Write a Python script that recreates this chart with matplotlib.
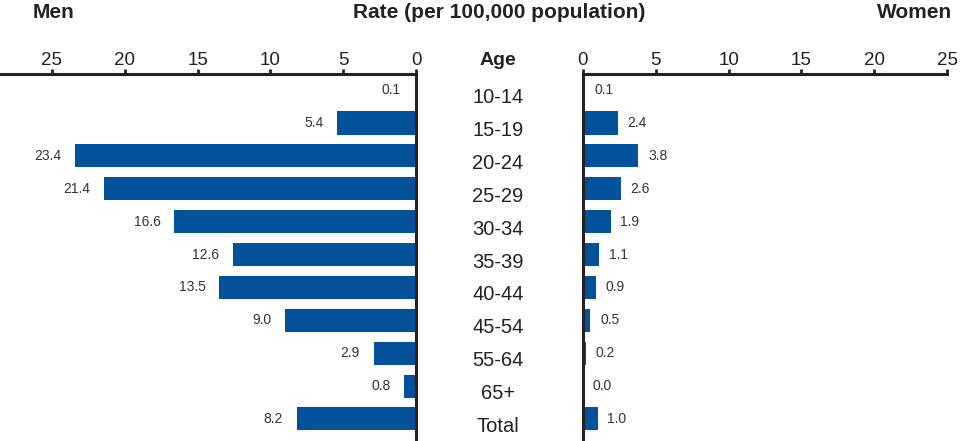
import matplotlib
matplotlib.use("Agg")
import matplotlib.pyplot as plt
import matplotlib.transforms as mtransforms

plt.rcParams['font.family'] = ['Liberation Sans', 'DejaVu Sans']

ages = ["10-14", "15-19", "20-24", "25-29", "30-34", "35-39", "40-44",
        "45-54", "55-64", "65+", "Total"]
men = [0.1, 5.4, 23.4, 21.4, 16.6, 12.6, 13.5, 9.0, 2.9, 0.8, 8.2]
women = [0.1, 2.4, 3.8, 2.6, 1.9, 1.1, 0.9, 0.5, 0.2, 0.0, 1.0]
ticks = [0, 5, 10, 15, 20, 25]

color = "#01529a"
dark = "#222222"
W, H = 960, 441
fig = plt.figure(figsize=(W / 100, H / 100), dpi=100)

top = 1 - 74 / H
axL = fig.add_axes([0, 0, 416 / W, top])
axR = fig.add_axes([583 / W, 0, (947 - 583) / W, top])

y = list(range(len(ages)))
axL.barh(y, men, height=0.7, color=color)
axR.barh(y, women, height=0.7, color=color)

for ax in (axL, axR):
    ax.set_ylim(10.67, -0.49)
    ax.set_yticks([])
    ax.xaxis.set_ticks_position('top')
    ax.set_xticks(ticks)
    ax.tick_params(axis='x', direction='out', length=3.5, width=2,
                   labelsize=13.5, pad=0, colors=dark)
    ax.spines['bottom'].set_visible(False)
    ax.spines['top'].set_linewidth(2.2)
    ax.spines['top'].set_color(dark)

axL.set_xlim(416 / 14.56, 0)
axL.spines['left'].set_visible(False)
axL.spines['right'].set_linewidth(2.2)
axL.spines['right'].set_color(dark)

axR.set_xlim(0, 25)
axR.spines['right'].set_visible(False)
axR.spines['left'].set_linewidth(2.2)
axR.spines['left'].set_color(dark)

for yi, v in zip(y, men):
    axL.annotate(f"{v:.1f}", xy=(v, yi), xytext=(-10, 0),
                 textcoords='offset points', ha='right', va='center',
                 fontsize=10, color='#333333')
for yi, v in zip(y, women):
    axR.annotate(f"{v:.1f}", xy=(v, yi), xytext=(7, 0),
                 textcoords='offset points', ha='left', va='center',
                 fontsize=10, color='#333333')

trans = mtransforms.blended_transform_factory(fig.transFigure, axL.transData)
offset = mtransforms.ScaledTranslation(0, -13 / 100, fig.dpi_scale_trans)
for yi, a in zip(y, ages):
    fig.text(498 / W, yi, a, transform=trans + offset, ha='center',
             va='baseline', fontsize=14.5, color=dark)

fig.text(498 / W, 1 - 65 / H, "Age", ha='center', va='baseline',
         fontsize=14, fontweight='bold', color=dark)
fig.text(53 / W, 1 - 18 / H, "Men", ha='center', va='baseline',
         fontsize=15, fontweight='bold', color=dark)
fig.text(499 / W, 1 - 18 / H, "Rate (per 100,000 population)", ha='center',
         va='baseline', fontsize=15, fontweight='bold', color=dark)
fig.text(952 / W, 1 - 18 / H, "Women", ha='right', va='baseline',
         fontsize=15, fontweight='bold', color=dark)

fig.savefig("out.png", dpi=100)
